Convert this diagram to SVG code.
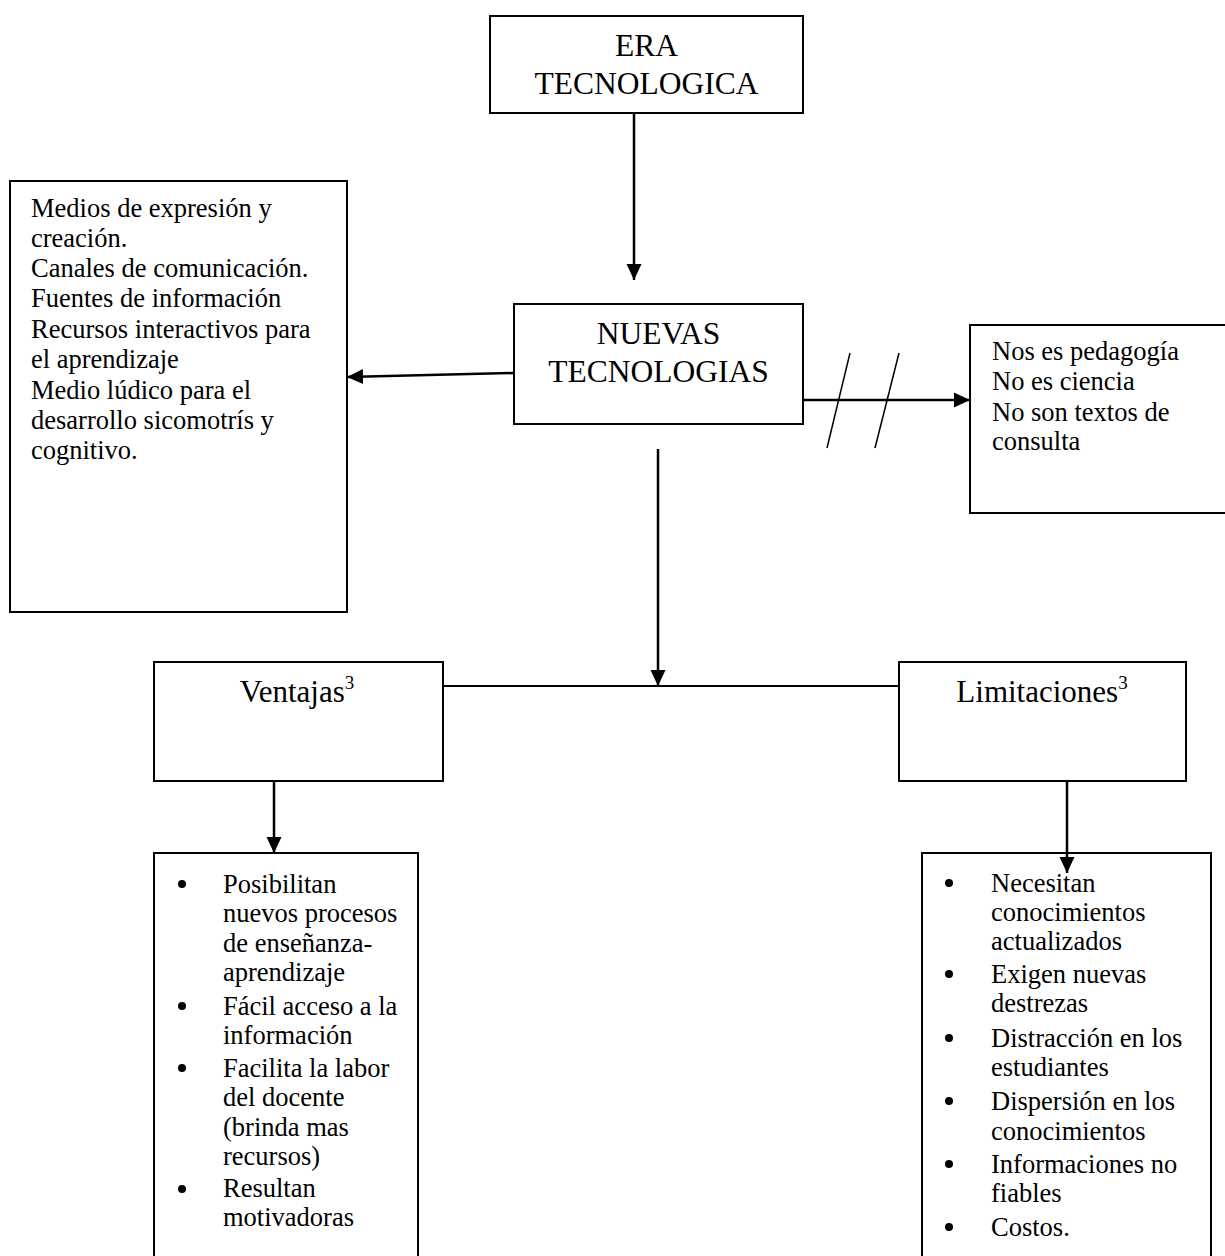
<svg xmlns="http://www.w3.org/2000/svg" width="1225" height="1256" viewBox="0 0 1225 1256">
<style>
  .box { fill: #ffffff; stroke: #000000; stroke-width: 2; }
  .t { font-family: "Liberation Serif", "Times New Roman", serif; fill: #000000; }
  .big { font-size: 31.5px; }
  .mid { font-size: 31px; }
  .sm { font-size: 26.5px; }
  .sup { font-size: 19px; }
  .conn { stroke: #000000; stroke-width: 2.5; fill: none; }
  .slash { stroke: #000000; stroke-width: 1.5; fill: none; }
</style>
<defs>
  <marker id="arr" markerUnits="userSpaceOnUse" markerWidth="16" markerHeight="16" viewBox="0 0 16 16" refX="16" refY="8" orient="auto">
    <path d="M0,0.5 L16,8 L0,15.5 z" fill="#000000"/>
  </marker>
</defs>
<rect width="1225" height="1256" fill="#ffffff"/>

<g id="era">
  <rect class="box" x="490" y="16" width="313" height="97"/>
  <text class="t big" x="646.5" y="56" text-anchor="middle">ERA</text>
  <text class="t big" x="646.5" y="94" text-anchor="middle">TECNOLOGICA</text>
</g>

<g id="nuevas">
  <rect class="box" x="514" y="304" width="289" height="120"/>
  <text class="t big" x="658.5" y="344" text-anchor="middle">NUEVAS</text>
  <text class="t big" x="658.5" y="382" text-anchor="middle">TECNOLOGIAS</text>
</g>

<g id="medios">
  <rect class="box" x="10" y="181" width="337" height="431"/>
  <text class="t sm" x="31">
    <tspan x="31" y="217">Medios de expresión y</tspan>
    <tspan x="31" y="247">creación.</tspan>
    <tspan x="31" y="277">Canales de comunicación.</tspan>
    <tspan x="31" y="307">Fuentes de información</tspan>
    <tspan x="31" y="338">Recursos interactivos para</tspan>
    <tspan x="31" y="368">el aprendizaje</tspan>
    <tspan x="31" y="399">Medio lúdico para el</tspan>
    <tspan x="31" y="429">desarrollo sicomotrís y</tspan>
    <tspan x="31" y="459">cognitivo.</tspan>
  </text>
</g>

<g id="noes">
  <rect class="box" x="970" y="325" width="262" height="188"/>
  <text class="t sm">
    <tspan x="992" y="360">Nos es pedagogía</tspan>
    <tspan x="992" y="390">No es ciencia</tspan>
    <tspan x="992" y="421">No son textos de</tspan>
    <tspan x="992" y="450">consulta</tspan>
  </text>
</g>

<g id="ventajas">
  <rect class="box" x="154" y="662" width="289" height="119"/>
  <text class="t mid" x="297" y="702" text-anchor="middle">Ventajas<tspan class="sup" dy="-13">3</tspan></text>
</g>

<g id="limitaciones">
  <rect class="box" x="899" y="662" width="287" height="119"/>
  <text class="t mid" x="1042" y="702" text-anchor="middle">Limitaciones<tspan class="sup" dy="-13">3</tspan></text>
</g>

<g id="ventajas-list">
  <rect class="box" x="154" y="853" width="264" height="420"/>
  <g fill="#000000">
    <circle cx="182" cy="884" r="4"/>
    <circle cx="182" cy="1006" r="4"/>
    <circle cx="182" cy="1068" r="4"/>
    <circle cx="182" cy="1189" r="4"/>
  </g>
  <text class="t sm">
    <tspan x="223" y="893">Posibilitan</tspan>
    <tspan x="223" y="922">nuevos procesos</tspan>
    <tspan x="223" y="952">de enseñanza-</tspan>
    <tspan x="223" y="981">aprendizaje</tspan>
    <tspan x="223" y="1015">Fácil acceso a la</tspan>
    <tspan x="223" y="1044">información</tspan>
    <tspan x="223" y="1077">Facilita la labor</tspan>
    <tspan x="223" y="1106">del docente</tspan>
    <tspan x="223" y="1136">(brinda mas</tspan>
    <tspan x="223" y="1165">recursos)</tspan>
    <tspan x="223" y="1197">Resultan</tspan>
    <tspan x="223" y="1226">motivadoras</tspan>
  </text>
</g>

<g id="limitaciones-list">
  <rect class="box" x="922" y="853" width="289" height="420"/>
  <g fill="#000000">
    <circle cx="949" cy="883" r="4"/>
    <circle cx="949" cy="974" r="4"/>
    <circle cx="949" cy="1038" r="4"/>
    <circle cx="949" cy="1101" r="4"/>
    <circle cx="949" cy="1164" r="4"/>
    <circle cx="949" cy="1227" r="4"/>
  </g>
  <text class="t sm">
    <tspan x="991" y="892">Necesitan</tspan>
    <tspan x="991" y="921">conocimientos</tspan>
    <tspan x="991" y="950">actualizados</tspan>
    <tspan x="991" y="983">Exigen nuevas</tspan>
    <tspan x="991" y="1012">destrezas</tspan>
    <tspan x="991" y="1047">Distracción en los</tspan>
    <tspan x="991" y="1076">estudiantes</tspan>
    <tspan x="991" y="1110">Dispersión en los</tspan>
    <tspan x="991" y="1140">conocimientos</tspan>
    <tspan x="991" y="1173">Informaciones no</tspan>
    <tspan x="991" y="1202">fiables</tspan>
    <tspan x="991" y="1236">Costos.</tspan>
  </text>
</g>

<g id="connectors">
  <line class="conn" x1="634" y1="113" x2="634" y2="280" marker-end="url(#arr)"/>
  <line class="conn" x1="514" y1="373" x2="347" y2="377" marker-end="url(#arr)"/>
  <line class="conn" x1="803" y1="400" x2="970" y2="400" marker-end="url(#arr)"/>
  <line class="slash" x1="850" y1="353" x2="827" y2="448"/>
  <line class="slash" x1="899" y1="353" x2="875" y2="448"/>
  <line class="conn" x1="658" y1="449" x2="658" y2="686" marker-end="url(#arr)"/>
  <line class="conn" x1="443" y1="686" x2="899" y2="686" style="stroke-width:2"/>
  <line class="conn" x1="274" y1="781" x2="274" y2="853" marker-end="url(#arr)"/>
  <line class="conn" x1="1067" y1="781" x2="1067" y2="873" marker-end="url(#arr)"/>
</g>
</svg>
